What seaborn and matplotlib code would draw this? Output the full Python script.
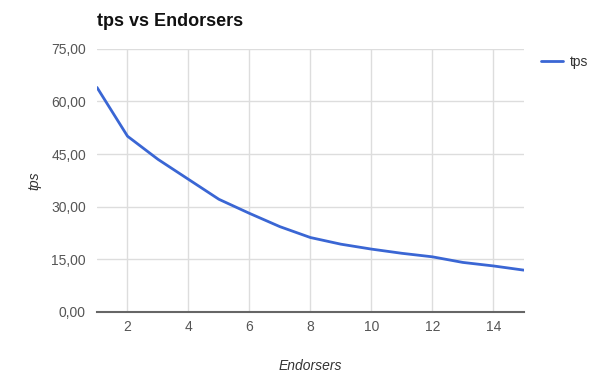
import matplotlib
matplotlib.use("Agg")
from matplotlib import pyplot as plt
import matplotlib.ticker as plticker
import seaborn as sns
import pandas as pd

endorsers = list(range(1, 16))
tps = [64.0, 50.1, 43.5, 37.8, 32.1, 28.1, 24.3, 21.2, 19.3, 17.9, 16.7, 15.7, 14.1, 13.1, 11.9]
y_ticks = [0, 15, 30, 45, 60, 75]
x_ticks = [2, 4, 6, 8, 10, 12, 14]

df = pd.DataFrame({"Endorsers": endorsers, "tps": tps})

sns.set_style("white")
plt.rcParams['font.family'] = ['Liberation Sans', 'DejaVu Sans']

fig = plt.figure(figsize=(6.14, 3.85), dpi=100)
ax = fig.add_axes([0.158, 0.19, 0.695, 0.683])
sns.lineplot(x="Endorsers", y="tps", data=df, color="#3a66d4", linewidth=2, ax=ax, label="tps")

ax.set_xlim(1, 15)
ax.set_ylim(0, 75)
ax.set_xticks(x_ticks)
ax.set_yticks(y_ticks)
ax.yaxis.set_major_formatter(plticker.FuncFormatter(lambda v, p: f"{v:.2f}".replace(".", ",")))
ax.grid(True, color="#dddddd", linewidth=1)
ax.set_axisbelow(True)
for s in ["top", "right", "left"]:
    ax.spines[s].set_visible(False)
ax.spines["bottom"].set_color("#666666")
ax.spines["bottom"].set_linewidth(1.5)
ax.spines["bottom"].set_zorder(5)
ax.tick_params(axis="both", length=0, labelsize=10, colors="#555555", pad=8)
ax.tick_params(axis="x", pad=6)

ax.set_xlabel("Endorsers", fontstyle="italic", fontsize=10, color="#333333", labelpad=18)
ax.set_ylabel("tps", fontstyle="italic", fontsize=10, color="#333333")
ax.yaxis.set_label_coords(-0.13, 0.5)
fig.text(0.158, 0.945, "tps vs Endorsers", fontsize=13, fontweight="bold", color="#111111", va="center")

ax.get_legend().remove()
fig.legend(loc="upper left", bbox_to_anchor=(0.86, 0.89), frameon=False, fontsize=10,
           handlelength=1.6, handletextpad=0.5, labelcolor="#333333")

plt.savefig("out.png", dpi=100)
